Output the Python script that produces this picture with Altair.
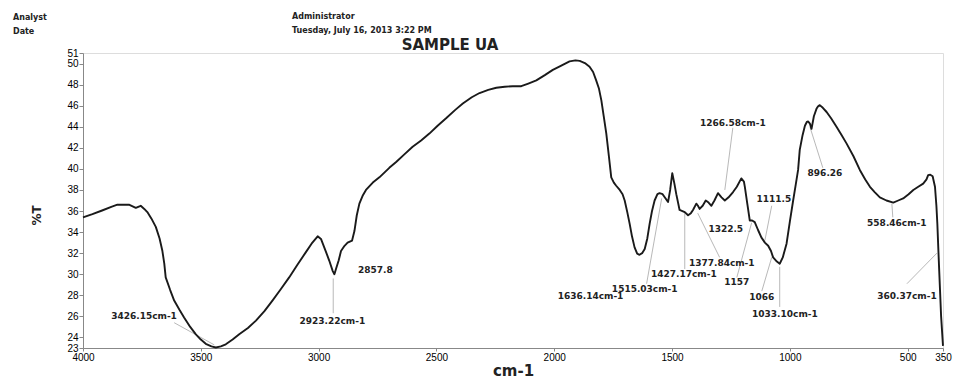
import altair as alt
import pandas as pd

# ---- spectrum (wavenumber cm-1, %T) ----
wavenumber = [
    4000, 3960, 3919, 3880, 3854, 3820, 3805, 3776, 3755, 3740, 3727, 3710, 3691, 3675,
    3663, 3655, 3649, 3630, 3613, 3590, 3571, 3545, 3521, 3500, 3479, 3455, 3436, 3415,
    3394, 3365, 3337, 3300, 3266, 3230, 3196, 3160, 3125, 3090, 3054, 3030, 3004, 2990,
    2970, 2955, 2940, 2933, 2925, 2915, 2905, 2890, 2877, 2858, 2848, 2838, 2827, 2812,
    2799, 2770, 2742, 2700, 2671, 2635, 2601, 2565, 2530, 2495, 2459, 2420, 2388, 2350,
    2317, 2280, 2246, 2210, 2176, 2140, 2110, 2076, 2040, 2006, 1970, 1935, 1910, 1892,
    1870, 1850, 1835, 1822, 1810, 1800, 1790, 1779, 1768, 1758, 1747, 1737, 1722, 1710,
    1701, 1690, 1680, 1670, 1659, 1648, 1638, 1627, 1616, 1605, 1595, 1585, 1574, 1562,
    1553, 1540, 1531, 1517, 1508, 1499, 1490, 1482, 1468, 1456, 1446, 1432, 1420, 1411,
    1397, 1390, 1383, 1370, 1357, 1345, 1333, 1320, 1305, 1290, 1276, 1260, 1241, 1225,
    1206, 1195, 1191, 1180, 1170, 1160, 1149, 1135, 1121, 1106, 1092, 1080, 1071, 1055,
    1043, 1030, 1014, 1000, 986, 975, 965, 958, 946, 936, 928, 922, 915, 908, 898, 887,
    880, 873, 860, 844, 825, 802, 780, 759, 730, 703, 680, 660, 640, 618, 590, 561, 540,
    519, 496, 476, 455, 434, 420, 413, 404, 394, 384, 378, 374, 370, 366, 358, 350,
]
transmittance = [
    35.4, 35.7, 36.05, 36.4, 36.6, 36.6, 36.6, 36.3, 36.5, 36.2, 35.9, 35.3, 34.5, 33.4,
    32.2, 31.0, 29.7, 28.5, 27.5, 26.6, 25.9, 25.0, 24.3, 23.8, 23.4, 23.15, 23.05, 23.15,
    23.35, 23.8, 24.3, 24.9, 25.6, 26.5, 27.5, 28.6, 29.7, 30.9, 32.1, 32.9, 33.6, 33.35,
    32.2, 31.3, 30.3, 30.0, 30.6, 31.3, 32.2, 32.7, 33.0, 33.2, 34.1, 35.6, 36.7, 37.5,
    38.0, 38.7, 39.2, 40.1, 40.65, 41.4, 42.1, 42.7, 43.35, 44.1, 44.8, 45.6, 46.2, 46.8,
    47.2, 47.5, 47.7, 47.8, 47.85, 47.85, 48.1, 48.4, 48.9, 49.4, 49.8, 50.2, 50.3, 50.25,
    50.05, 49.7, 49.2, 48.4, 47.6, 46.5, 45.0, 43.35, 41.2, 39.2, 38.7, 38.4, 38.0, 37.6,
    37.0, 35.9, 34.8, 33.6, 32.55, 31.95, 31.85, 32.0, 32.4, 33.4, 34.8, 36.0, 37.0, 37.6,
    37.7, 37.6, 37.3, 36.85, 38.0, 39.6, 38.6, 37.6, 36.1, 36.0, 35.9, 35.6, 35.8, 36.1,
    36.7, 36.5, 36.2, 36.5, 37.0, 36.8, 36.5, 37.0, 37.7, 37.3, 37.0, 37.3, 37.8, 38.3,
    39.1, 38.8, 38.3, 36.6, 35.1, 35.1, 34.95, 34.2, 33.5, 33.0, 32.7, 32.2, 31.6, 31.2,
    31.0, 31.6, 32.9, 35.0, 37.0, 38.5, 39.9, 41.8, 43.2, 44.1, 44.45, 44.5, 44.3, 43.8, 45.0, 45.7,
    45.95, 46.05, 45.8, 45.4, 44.8, 44.0, 43.2, 42.4, 41.2, 39.9, 39.0, 38.3, 37.8, 37.3, 37.0, 36.8, 37.0,
    37.2, 37.6, 38.0, 38.3, 38.6, 39.0, 39.4, 39.45, 39.3, 38.3, 36.5, 34.8, 32.5, 30.3, 26.0, 23.2,
]

# ---- peak annotations ----
peak_text = [
    "3426.15cm-1", "2923.22cm-1", "2857.8", "1636.14cm-1", "1515.03cm-1",
    "1427.17cm-1", "1377.84cm-1", "1322.5", "1266.58cm-1", "1111.5", "1157",
    "1066", "1033.10cm-1", "896.26", "558.46cm-1", "360.37cm-1",
]
peak_text_wn = [3741, 2942, 2759, 1846, 1616, 1450, 1289, 1272, 1242, 1068, 1225,
                1119, 1021, 851, 546, 503]
peak_text_t = [26.05, 25.6, 30.4, 27.95, 28.6, 30.05, 31.1, 34.3, 44.4, 37.1, 29.3,
               27.8, 26.2, 39.6, 34.9, 27.9]

lead_wn1 = [3613, 2938, 1608, 1446, 1391, 1242, 1077, 1225, 1119, 1043, 915, 567, 503]
lead_t1 = [25.4, 29.6, 29.1, 35.85, 35.8, 43.9, 36.5, 29.7, 28.4, 30.7, 44.0, 36.7, 29.1]
lead_wn2 = [3443, 2938, 1544, 1446, 1298, 1276, 1106, 1162, 1077, 1043, 860, 563, 376]
lead_t2 = [23.3, 26.3, 37.2, 30.5, 31.6, 38.0, 33.2, 34.9, 31.6, 26.9, 40.1, 35.4, 32.0]

x_ticks = [4000, 3500, 3000, 2500, 2000, 1500, 1000, 500, 350]
y_ticks = [23, 24, 26, 28, 30, 32, 34, 36, 38, 40, 42, 44, 46, 48, 50, 51]

spec = pd.DataFrame({"wn": wavenumber, "T": transmittance, "i": list(range(len(wavenumber)))})
peaks = pd.DataFrame({"label": peak_text, "wn": peak_text_wn, "T": peak_text_t})
leads = pd.DataFrame({"wn": lead_wn1, "T": lead_t1, "wn2": lead_wn2, "T2": lead_t2})

FONT = "DejaVu Sans"
xs = alt.Scale(domain=[350, 4000], reverse=True, nice=False, zero=False)
ys = alt.Scale(domain=[23, 51], nice=False, zero=False)

x_axis = alt.Axis(
    values=x_ticks, title="cm-1", format="d", labelFlush=False, labelOverlap=False,
    grid=False, tickSize=3, labelPadding=1, titlePadding=1,
    titleFont=FONT, titleFontSize=15, titleFontWeight="bold", titleColor="#222",
)
y_axis = alt.Axis(
    values=y_ticks, title="%T", format="d", labelFlush=False, labelOverlap=False,
    grid=False, tickSize=4, labelPadding=1,
    titleFont=FONT, titleFontSize=12, titleFontWeight="bold", titleColor="#222",
    titleX=-47, titleY=162, titleAngle=-90, titleAlign="center", titleBaseline="middle",
)

X = alt.X("wn:Q", scale=xs, axis=x_axis, title="cm-1")
Y = alt.Y("T:Q", scale=ys, axis=y_axis, title="%T")

line = alt.Chart(spec).mark_line(color="#1a1a1a", strokeWidth=1.9, strokeJoin="round").encode(
    x=X, y=Y, order="i:Q",
)

leaders = alt.Chart(leads).mark_rule(color="#9a9a9a", strokeWidth=0.7).encode(
    x=X, y=Y, x2="wn2:Q", y2="T2:Q",
)

labels = alt.Chart(peaks).mark_text(
    font=FONT, fontSize=9, fontWeight="bold", color="#222", align="center", baseline="middle"
).encode(x=X, y=Y, text="label:N")

one = pd.DataFrame({"a": [0]})
hdr_left = alt.Chart(one).mark_text(
    text=["Analyst", "Date"], font=FONT, fontSize=8, fontWeight="bold", color="#222",
    align="left", baseline="middle", lineHeight=14,
).encode(x=alt.value(-70), y=alt.value(-35))
hdr_mid = alt.Chart(one).mark_text(
    text=["Administrator", "Tuesday, July 16, 2013 3:22 PM"], font=FONT, fontSize=8,
    fontWeight="bold", color="#222", align="left", baseline="middle", lineHeight=14,
).encode(x=alt.value(209), y=alt.value(-36))
title_txt = alt.Chart(one).mark_text(
    text="SAMPLE UA", font=FONT, fontSize=15, fontWeight="bold", color="#222",
    align="center", baseline="middle",
).encode(x=alt.value(367), y=alt.value(-8))

chart = alt.layer(leaders, line, labels, hdr_left, hdr_mid, title_txt).properties(
    width=860, height=295,
    autosize=alt.AutoSizeParams(type="none"),
    padding={"left": 83, "top": 53, "right": 16, "bottom": 33},
).configure_view(strokeWidth=0).configure_axis(
    domainColor="#444", domainWidth=1.5, tickColor="#444", tickWidth=1,
    labelFont=FONT, labelFontSize=10, labelFontWeight="bold", labelColor="#222",
    labelOverlap=False,
).configure(background="white")

chart.save("out.html", embed_options={"renderer": "svg", "actions": False})
